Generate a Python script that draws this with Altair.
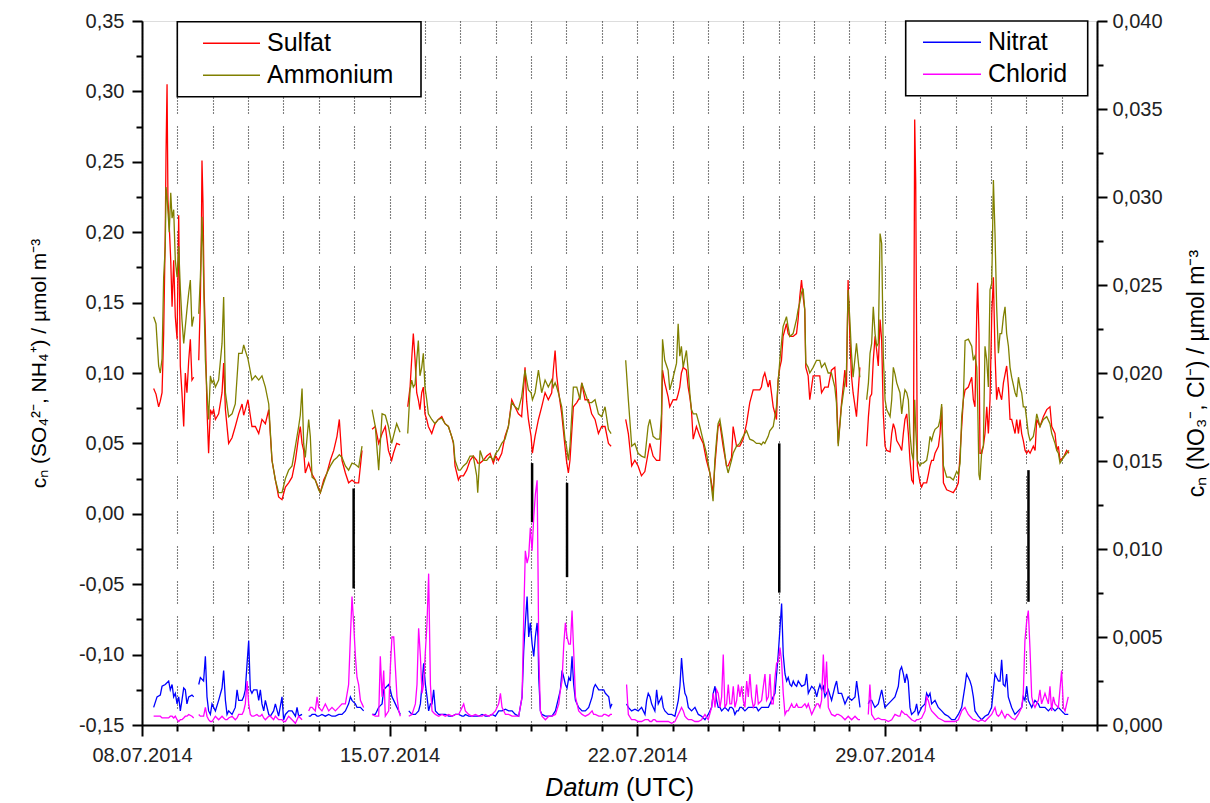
import altair as alt
import pandas as pd

T0 = pd.Timestamp("2014-07-08T00:00:00Z")

# ---- upper panel (left axis), hours since 08.07.2014 00:00 UTC, values in 1e-3 umol m-3
t_upper = [7.9, 9.5, 11.3, 12.4, 13.6, 14.7, 15.8, 16.3, 17.0, 17.6, 18.5, 19.5, 20.4, 21.5, 22.6, 23.8,
           24.9, 26.0, 27.1, 28.3, 29.4, 30.5, 31.7, 32.8, 33.9, 35.1, 36.5, 38.5, 39.6, 40.3, 40.7, 41.4,
           42.1, 43.0, 44.1, 45.2, 46.4, 47.5, 48.6, 49.8, 52.0, 54.3, 55.4, 56.6, 58.8, 61.1, 63.3, 65.6,
           67.9, 69.0, 70.1, 71.9, 74.6, 76.9, 79.2, 81.4, 83.7, 86.0, 88.2, 90.5, 92.7, 95.0, 97.3, 99.5,
           101.8, 104.1, 106.3, 107.4, 108.6, 109.7, 110.8, 113.1, 114.2, 115.4, 117.6, 119.9, 121.0, 123.3,
           125.5, 127.8, 130.1, 132.3, 133.9, 135.7, 138.0, 140.2, 142.5, 144.8, 147.0, 149.3, 152.5, 156.1,
           158.3, 160.6, 162.9, 165.1, 167.2, 169.4, 170.6, 172.8, 175.1, 177.5, 180.3, 181.9, 183.0, 184.1,
           185.3, 186.4, 187.5, 188.6, 189.8, 190.9, 192.0, 193.2, 194.3, 196.6, 198.8, 201.1, 203.4, 205.6,
           207.9, 210.1, 211.3, 212.4, 214.7, 216.0, 218.1, 220.3, 222.6, 224.8, 227.1, 227.8, 229.4, 231.6,
           233.9, 236.2, 238.4, 240.0, 241.8, 244.1, 246.3, 248.6, 250.9, 253.1, 255.4, 257.6, 259.9, 261.0,
           262.2, 264.0, 264.9, 266.7, 269.0, 271.2, 273.5, 275.7, 278.0, 279.1, 280.3, 281.4, 282.5, 284.8,
           287.0, 288.0, 289.3, 290.4, 292.7, 295.0, 297.2, 298.4, 300.6, 302.9, 305.1, 307.4, 309.7, 311.9,
           314.2, 316.5, 318.3, 323.0, 328.2, 330.0, 332.3, 334.4, 336.6, 338.9, 341.2, 343.4, 344.6, 346.8,
           349.1, 351.3, 352.5, 353.2, 354.7, 357.0, 358.1, 360.4, 362.7, 363.8, 364.9, 366.0, 367.2, 369.4,
           370.6, 371.7, 372.8, 374.0, 376.2, 378.5, 380.8, 383.0, 385.3, 387.5, 388.7, 389.8, 390.9, 392.1,
           394.3, 396.6, 397.7, 400.0, 401.1, 403.4, 405.6, 407.9, 410.2, 412.4, 414.7, 416.9, 419.2, 420.3,
           421.5, 422.6, 424.9, 426.0, 428.3, 430.5, 431.6, 432.8, 433.9, 435.0, 437.3, 438.4, 439.6, 441.8,
           444.1, 445.2, 446.3, 447.5, 448.6, 449.7, 450.4, 452.0, 453.1, 455.4, 457.7, 459.9, 461.1, 463.3,
           465.6, 467.8, 470.1, 471.2, 472.4, 474.6, 476.9, 478.0, 479.1, 480.3, 481.4, 482.5, 484.8, 487.1,
           489.5, 491.7, 492.9, 494.0, 495.1, 496.2, 497.4, 498.5, 499.6, 500.8, 501.9, 503.0, 504.2, 505.3,
           507.6, 508.7, 509.8, 511.0, 512.1, 514.3, 515.5, 516.6, 517.7, 518.9, 520.0, 521.1, 522.3, 523.4,
           524.3, 525.0, 526.1, 527.9, 529.0, 530.2, 532.4, 533.6, 534.7, 535.8, 537.0, 538.1, 540.4, 541.5,
           542.6, 543.8, 546.0, 548.3, 550.5, 552.8, 553.9, 555.1, 556.2, 557.3, 558.5, 560.7, 563.0, 564.1,
           565.2, 566.4, 567.0, 567.9, 568.6, 569.8, 570.9, 572.0, 573.2, 574.3, 575.4, 576.6, 577.7, 578.8,
           579.9, 581.1, 582.2, 583.3, 584.5, 585.6, 586.7, 587.9, 589.0, 590.1, 592.4, 593.5, 594.7, 595.8,
           596.9, 598.0, 599.2, 600.3, 601.4, 602.6, 604.8, 606.0, 607.1, 609.3, 611.6, 613.9, 616.1, 617.3,
           619.5, 620.7, 621.8, 622.9, 625.2, 627.4, 629.0]
sulfat = [89, 85, 76, 80, 86, 128, 200, 256, 305, 223, 204, 180, 147, 180, 140, 124,
          212, 105, 86, 62, 100, 86, 109, 124, 95, 97, None, 109, 152, 200, 251, 220,
          160, 128, 74, 43, 74, 71, 74, 67, 71, 86, 107, 74, 50, 54, 62, 71,
          78, 70, 74, 81, 62, 62, 57, 67, 64, 74, 38, 24, 12, 10, 19, 22,
          26, 38, 55, 62, 50, 45, 29, 36, 32, 28, 24, 18, 15, 24,
          29, 38, 45, 55, 67, 38, 29, 22, 24, 22, 22, 45, None, 60,
          62, 50, 57, 62, 45, 38, 43, 50, 49, None, 76, 90, 110, 128,
          109, 86, 81, 74, 86, 90, 71, 67, 62, 57, 64, 67, 69, 64,
          62, 55, 50, 34, 24, 27, 27, 31, 38, 41, 38, 36, 36, 38,
          41, 43, 36, 41, 38, 43, 55, 62, 81, 76, 71, 69, 104, 80,
          67, 55, 43, 55, 67, 76, 86, 81, 86, 102, 116, 98, 88, 71,
          48, 38, 29, 38, 76, 79, 83, 93, 81, 81, 71, 67, 57, 62,
          62, 50, 48, None, 67, 57, 34, 38, 34, 27, 30, 43, 50, 41,
          38, 38, 62, 102, 93, 83, 76, 81, 81, 85, 90, 100, 104, 102,
          90, 83, 74, 53, 62, 55, 50, 38, 29, 15, 34, 48, 62, 64,
          48, 34, 34, 40, 62, 48, 48, 53, 64, 79, 88, 88, 88, 90,
          97, 100, 90, 95, 76, 67, 95, 104, 109, 126, 135, 128, 126, 126,
          128, 138, 154, 166, 154, 145, 104, 98, 81, 98, 98, 98, 86, 90,
          90, 102, 104, 86, 50, 78, 102, 90, 166, 126, 98, 86, 69, 104,
          None, 48, 69, 83, 85, 109, 126, 116, 105, 138, 123, 71, 48, 45,
          44, 57, 64, 60, 52, 48, 45, 57, 67, 71, 57, 38, 24, 22,
          280, 235, 34, 22, 19, 22, 22, 28, 34, 38, 38, 43, 48, 57,
          76, 22, 17, 16, 15, 19, 22, 43, 62, 81, 88, 90, 97, 81,
          76, 142, 164, 128, 43, 43, 48, 57, 76, 57, 81, 142, 168, 114,
          81, 90, 85, 81, 93, 99, 105, 90, 67, 67, 57, 67, 57, 67,
          57, 52, 45, 43, 45, 43, 48, 45, 67, 62, 69, 74, 76, 62,
          57, 45, 48, 38, 40, 45, 43]
ammonium = [140, 135, 105, 100, 110, 168, 190, 232, 225, 215, 200, 228, 210, 216, 180, 168,
            190, 160, 138, 121, 133, 145, 157, 166, 133, 140, None, 142, 168, 190, 211, 190,
            150, 109, 86, 67, 98, 93, 95, 90, 95, 121, 154, 86, 69, 71, 78, 114,
            114, 120, 116, 110, 95, 98, 95, 98, 90, 78, 38, 24, 15, 15, 25, 31,
            34, 48, 62, 70, 89, 50, 40, 67, 55, 26, 24, 17, 15, 22,
            29, 34, 38, 40, 42, 40, 34, 31, 36, 35, 33, 48, None, 74,
            62, 31, 71, 70, 62, 50, 55, 64, 58, None, 57, 88, 95, 90,
            92, 109, 123, 98, 104, 114, 90, 81, 71, 67, 64, 67, 68, 64,
            62, 55, 51, 38, 31, 31, 34, 36, 41, 41, 27, 15, 45, 38,
            38, 41, 38, 43, 45, 50, 53, 62, 79, 76, 74, 83, 102, 95,
            88, 86, 81, 86, 102, 86, 95, 90, 95, 90, 93, 90, 86, 76,
            53, 48, 38, 48, 90, 90, 81, 93, 86, 79, 79, 81, 71, 69,
            76, 60, 57, None, 109, 81, 48, 50, 43, 41, 40, 62, 67, 55,
            53, 53, 71, 124, 109, 102, 88, 97, 107, 135, 112, 119, 104, 116,
            102, 86, 74, 71, 71, 62, 52, 43, 29, 9, 38, 52, 64, 67,
            52, 34, 29, 38, 43, 48, 50, 55, 59, 53, 52, 50, 50, 49,
            51, 50, 55, 59, 62, 76, 93, 109, 121, 133, 140, 133, 126, 128,
            138, 145, 150, 157, 160, 145, 107, 104, 100, 104, 109, 109, 104, 107,
            100, 100, 90, 79, 48, 76, 93, 102, 159, 138, 114, 97, 121, 97,
            None, 81, 93, 114, 121, 147, 128, 119, 121, 199, 192, 112, 81, 74,
            69, 81, 104, 99, 93, 86, 71, 81, 88, 86, 81, 57, 43, 38,
            81, 60, 38, 34, 36, 36, 38, 45, 55, 52, 57, 60, 62, 67,
            78, 34, 26, 26, 24, 30, 28, 36, 69, 81, 123, 124, 119, 109,
            112, 104, 81, 28, 24, 45, 48, 119, 109, 90, 159, 164, 237, 199,
            147, 114, 128, 128, 140, 147, 128, 119, 104, 97, 86, 83, 97, 90,
            86, 76, 76, 67, 57, 52, 55, 62, 71, 62, 67, 69, 64, 57,
            50, 45, 43, 36, 40, 43, 45]

# ---- lower panel (right axis), values in 1e-4 umol m-3
t_lower = [7.9, 10.2, 12.4, 13.6, 15.8, 18.1, 19.2, 20.4, 21.5, 22.6, 23.8, 24.9, 26.0, 27.1, 28.3, 29.4,
           30.5, 31.7, 33.9, 35.1, 36.5, 38.5, 39.6, 41.8, 43.0, 44.1, 45.2, 46.4, 47.5, 49.8, 52.0, 54.3,
           55.4, 56.6, 57.7, 58.8, 61.1, 63.3, 64.5, 65.6, 67.9, 69.0, 70.1, 71.3, 72.4, 73.5, 74.6, 75.8,
           78.0, 79.2, 80.3, 81.4, 82.6, 83.7, 86.0, 87.1, 89.3, 90.5, 92.7, 95.0, 96.1, 97.3, 99.5, 101.8,
           104.1, 105.2, 106.3, 108.6, 111.0, 113.1, 114.2, 115.4, 117.6, 118.8, 119.9, 122.1, 124.4, 126.7,
           128.9, 131.2, 133.5, 135.7, 138.0, 140.2, 141.4, 142.5, 143.6, 144.8, 145.9, 147.0, 148.2, 149.3,
           150.4, 153.0, 156.1, 158.3, 160.6, 161.7, 162.9, 164.0, 165.1, 167.4, 168.5, 169.6, 170.8, 171.9,
           173.0, 174.2, 175.3, 177.5, 181.0, 183.2, 185.5, 186.6, 187.7, 188.9, 190.0, 191.1, 192.3, 193.4,
           194.5, 195.7, 196.8, 197.9, 199.1, 201.3, 203.6, 205.8, 208.1, 210.4, 212.6, 214.9, 217.2, 218.3,
           219.4, 221.7, 223.9, 226.2, 228.5, 230.7, 233.0, 235.2, 237.5, 239.8, 242.0, 243.2, 244.3, 246.6,
           248.8, 251.1, 253.3, 255.6, 257.9, 259.0, 260.1, 261.3, 262.4, 263.5, 264.7, 265.8, 266.9, 268.1,
           268.7, 269.2, 270.3, 271.4, 273.7, 276.0, 278.2, 280.5, 282.8, 283.9, 285.0, 286.2, 287.3, 288.4,
           289.6, 290.7, 291.8, 292.9, 294.1, 296.3, 298.6, 300.8, 303.1, 305.4, 306.5, 307.6, 309.9, 312.2,
           313.3, 314.4, 316.7, 317.8, 318.9, 323.0, 328.8, 330.0, 332.2, 334.5, 336.7, 339.0, 341.3, 342.4,
           343.5, 344.7, 345.8, 346.9, 348.0, 349.2, 350.3, 352.6, 353.7, 354.8, 357.1, 359.4, 361.6, 363.9,
           365.0, 366.1, 367.3, 368.4, 369.5, 370.7, 372.9, 375.2, 377.5, 379.7, 382.0, 384.2, 386.5, 387.6,
           388.8, 389.9, 391.0, 392.2, 393.3, 394.4, 395.5, 396.7, 397.8, 398.9, 400.1, 401.2, 402.3, 403.5,
           404.6, 405.7, 406.9, 408.0, 409.1, 410.3, 411.4, 412.5, 413.6, 414.8, 415.9, 417.0, 418.2, 420.4,
           422.7, 423.8, 425.0, 426.1, 427.2, 428.3, 429.5, 430.6, 431.7, 432.9, 434.0, 435.1, 436.3, 437.4,
           438.5, 439.7, 440.8, 441.9, 443.0, 444.2, 445.3, 447.6, 449.8, 451.0, 452.1, 454.4, 456.6, 457.8,
           458.9, 460.0, 461.1, 462.3, 463.4, 464.5, 465.7, 467.9, 470.2, 471.3, 472.5, 474.7, 477.0, 479.2,
           481.5, 483.8, 484.9, 486.0, 487.2, 489.5, 492.8, 493.9, 495.1, 497.3, 499.6, 501.9, 504.1, 506.4,
           508.7, 510.9, 513.2, 514.3, 515.4, 516.6, 517.7, 518.8, 519.9, 521.1, 522.2, 524.5, 525.6, 526.7,
           529.0, 531.3, 532.4, 533.5, 534.7, 535.8, 538.1, 540.3, 542.6, 544.8, 547.1, 549.4, 551.6, 553.9,
           556.2, 558.4, 559.5, 560.7, 561.8, 562.9, 564.1, 565.2, 567.5, 569.7, 572.0, 574.2, 576.5, 578.8,
           579.9, 581.1, 582.2, 583.3, 584.4, 585.6, 586.7, 587.8, 590.1, 592.3, 594.6, 596.9, 598.0, 599.1,
           600.3, 601.4, 602.5, 603.7, 604.8, 605.9, 608.2, 609.3, 610.4, 612.7, 615.0, 616.1, 617.2, 618.4,
           619.5, 621.8, 624.0, 625.2, 626.3, 628.5]
nitrat = [10, 16, 17, 22, 23, 25, 20, 23, 16, 18, 12, 16, 8, 14, 21, 20,
          12, 16, 17, 16, None, 23, 27, 25, 39, 16, 8, 6, 12, 8, 14, 21,
          31, 14, 6, 8, 6, 10, 20, 14, 14, 16, 20, 35, 48, 20, 18, 20,
          20, 14, 20, 12, 8, 14, 6, 5, 8, 12, 5, 16, 3, 6, 8, 8,
          5, 10, 5, 6, None, 5, 5, 6, 6, 5, 5, 6, 5, 6,
          5, 5, 6, 6, 8, 12, 16, 14, 13, 12, 10, 10, 10, 9,
          8, None, 6, 6, 10, 11, 12, 20, 21, 23, 20, 16, 14, 12,
          10, 8, 6, None, 8, 6, 6, 7, 8, 12, 23, 35, 23, 16,
          8, 12, 12, 20, 8, 6, 6, 6, 5, 5, 6, 6, 5, 5,
          6, 5, 5, 5, 5, 6, 5, 5, 6, 5, 8, 8, 8, 9,
          8, 8, 6, 5, 16, 42, 58, 73, 50, 58, 46, 39, 50, 58,
          50, 27, 8, 6, 5, 5, 5, 8, 16, 20, 31, 27, 23, 21,
          27, 25, 39, 23, 14, 10, 8, 8, 10, 16, 21, 23, 20, 20,
          20, 18, 16, 10, 12, None, 12, 10, 8, 9, 8, 10, 6, 14,
          18, 16, 12, 10, 8, 20, 12, 16, 10, 8, 6, 6, 5, 14,
          22, 38, 25, 18, 16, 10, 8, 10, 6, 5, 3, 6, 10, 18,
          22, 14, 10, 10, 8, 9, 10, 9, 8, 10, 10, 9, 6, 8,
          8, 10, 10, 9, 8, 9, 10, 10, 10, 10, 10, 10, 8, 10,
          10, 10, 10, 12, 14, 16, 18, 29, 40, 55, 69, 40, 29, 25,
          27, 23, 22, 25, 23, 22, 25, 22, 23, 29, 18, 22, 20, 16,
          20, 23, 20, 22, 16, 18, 20, 14, 22, 25, 18, 18, 12, 16,
          14, 16, 25, 18, 10, None, 12, 14, 14, 10, 12, 20, 10, 12,
          14, 16, 22, 31, 33, 29, 24, 29, 25, 10, 6, 8, 12, 6,
          10, 12, 18, 16, 18, 12, 14, 10, 8, 6, 5, 3, 3, 6,
          10, 22, 29, 27, 25, 22, 16, 8, 5, 3, 5, 6, 10, 29,
          27, 25, 25, 37, 23, 22, 29, 16, 10, 6, 8, 10, 16, 14,
          22, 14, 12, 10, 12, 14, 12, 10, 10, 10, 8, 9, 10, 9,
          8, 10, 8, 7, 6, 6]
chlorid = [5, 5, 5, 4, 4, 4, 5, 5, 4, 5, 3, 2, 3, 3, 4, 5,
           5, 6, 5, 4, None, 6, 5, 5, 10, 5, 3, 2, 2, 5, 3, 5,
           4, 3, 3, 4, 5, 3, 4, 6, 6, 8, 12, 25, 12, 6, 5, 5,
           6, 5, 5, 6, 4, 3, 5, 5, 3, 5, 3, 3, 2, 2, 5, 3,
           1, 3, 5, 3, None, 8, 10, 10, 8, 16, 10, 8, 12, 8,
           10, 8, 10, 12, 12, 23, 50, 73, 58, 39, 27, 23, 14, 12,
           10, None, 6, 5, 5, 39, 16, 31, 5, 8, 33, 50, 50, 33,
           16, 8, 5, None, 5, 6, 12, 23, 55, 39, 18, 23, 42, 58,
           86, 23, 8, 7, 6, 5, 6, 5, 6, 5, 6, 6, 10, 12,
           8, 6, 5, 6, 5, 5, 6, 5, 6, 8, 12, 18, 10, 6,
           6, 5, 5, 5, 16, 61, 99, 92, 96, 112, 99, 118, 131, 139,
           90, 42, 8, 5, 3, 5, 5, 6, 12, 20, 25, 46, 58, 50,
           46, 46, 65, 42, 16, 8, 6, 5, 6, 8, 6, 6, 5, 5,
           6, 6, 5, 6, 6, None, 23, 6, 3, 3, 2, 2, 3, 3,
           3, 2, 2, 3, 3, 2, 2, 2, 2, 2, 2, 1, 2, 6,
           8, 10, 8, 5, 4, 3, 3, 2, 2, 3, 6, 3, 10, 18,
           10, 20, 18, 10, 16, 40, 10, 12, 23, 12, 12, 22, 10, 14,
           23, 16, 22, 14, 10, 25, 16, 29, 16, 10, 12, 23, 12, 14,
           29, 14, 16, 29, 12, 12, 27, 35, 36, 44, 36, 18, 6, 8,
           8, 10, 12, 10, 10, 12, 10, 10, 12, 10, 12, 6, 10, 12,
           12, 10, 14, 40, 18, 36, 10, 6, 5, 6, 6, 5, 3, 5,
           3, 5, 4, 3, 3, None, 6, 23, 6, 3, 4, 3, 3, 2,
           3, 6, 5, 5, 8, 7, 6, 6, 5, 4, 3, 2, 3, 3,
           4, 8, 16, 14, 10, 8, 6, 4, 3, 2, 2, 2, 2, 3,
           8, 10, 8, 6, 5, 4, 3, 3, 2, 3, 2, 4, 6, 10,
           6, 5, 6, 8, 6, 4, 6, 6, 4, 3, 6, 10, 18, 48,
           59, 65, 44, 16, 12, 10, 14, 20, 12, 18, 12, 22, 8, 16,
           12, 10, 31, 10, 8, 16]

# ---- marked events (black bars), left-axis units
event_hours = [143.6, 264.7, 288.4, 432.4, 601.5]
event_top = [0.018, 0.036, 0.022, 0.050, 0.031]
event_bottom = [-0.053, -0.006, -0.045, -0.056, -0.0625]

legend_left = ["Sulfat", "Ammonium"]
legend_right = ["Nitrat", "Chlorid"]
colors_left = ["#ff0000", "#808000"]
colors_right = ["#0000ff", "#ff00ff"]

FONT = "Liberation Sans"


def iso(h):
    return (T0 + pd.Timedelta(hours=h)).strftime("%Y-%m-%dT%H:%M:%SZ")


def series_frame(hours, values, scale, name):
    rows, seg = [], 0
    for h, v in zip(hours, values):
        if v is None:
            seg += 1
            continue
        rows.append({"t": iso(h), "v": v * scale, "series": name, "seg": seg})
    return pd.DataFrame(rows)


df_s = series_frame(t_upper, sulfat, 1e-3, "Sulfat")
df_a = series_frame(t_upper, ammonium, 1e-3, "Ammonium")
df_n = series_frame(t_lower, nitrat, 1e-4, "Nitrat")
df_c = series_frame(t_lower, chlorid, 1e-4, "Chlorid")
df_ev = pd.DataFrame({"t": [iso(h) for h in event_hours], "top": event_top, "bottom": event_bottom})

DAY = 86400000
t0_ms = int(T0.timestamp() * 1000)
x_vals = [t0_ms + i * DAY for i in range(28)]
week_test = f"(datum.value - {t0_ms}) % {7 * DAY} == 0"
gdash = [1, 2] * 7 + [1, 13]

x_scale = alt.Scale(type="utc", domain=[alt.DateTime(year=2014, month=7, date=8, utc=True),
                                        alt.DateTime(year=2014, month=8, date=4, utc=True)], nice=False)
x_axis = alt.Axis(
    title=None, values=x_vals, format="%d.%m.%Y", formatType="utc",
    labelExpr=f"{week_test} ? utcFormat(datum.value, '%d.%m.%Y') : ''",
    tickSize={"condition": {"test": week_test, "value": 11}, "value": 6},
    labelPadding=9, labelFontSize=20, labelFont=FONT, labelColor="#222",
    labelOverlap=False, labelFlush=False,
    grid=True, gridDash=gdash, gridColor="black", gridWidth=1.1, gridOpacity=1,
    domainColor="black", domainWidth=2, tickColor="black", tickWidth=2,
)
X = alt.X("t:T", scale=x_scale, axis=x_axis)

yl_vals = [(i * 25 - 150) / 1000 for i in range(21)]
major_l = "abs(datum.value*20 - round(datum.value*20)) < 0.001"
yl_scale = alt.Scale(domain=[-0.15, 0.35], nice=False, zero=False)
yl_axis = alt.Axis(
    values=yl_vals, orient="left",
    labelExpr=f"{major_l} ? replace(replace(format(datum.value, '.2f'), '.', ','), '\u2212', '-') : ''",
    tickSize={"condition": {"test": major_l, "value": 10}, "value": 6},
    labelPadding=8, labelFontSize=20, labelFont=FONT, labelColor="#222", labelOverlap=False,
    grid=False, domainColor="black", domainWidth=2, tickColor="black", tickWidth=2,
    title="c\u2099 (SO\u2084\u00b2\u207b, NH\u2084\u207a) / \u00b5mol m\u207b\u00b3",
    titleFont=FONT, titleFontSize=21, titleFontWeight="normal", titleColor="black",
    titleAngle=270, titleX=-97, titleY=342, titleAlign="center", titleBaseline="alphabetic",
)

yr_vals = [(i * 25) / 10000 for i in range(17)]
major_r = "abs(datum.value*200 - round(datum.value*200)) < 0.001"
yr_scale = alt.Scale(domain=[0, 0.04], nice=False, zero=False)
yr_axis = alt.Axis(
    values=yr_vals, orient="right",
    labelExpr=f"{major_r} ? replace(format(datum.value, '.3f'), '.', ',') : ''",
    tickSize={"condition": {"test": major_r, "value": 10}, "value": 6},
    labelPadding=5, labelFontSize=20, labelFont=FONT, labelColor="#222", labelOverlap=False,
    grid=False, domainColor="black", domainWidth=2, tickColor="black", tickWidth=2,
    title="c\u2099 (NO\u2083\u207b, Cl\u207b) / \u00b5mol m\u207b\u00b3",
    titleFont=FONT, titleFontSize=23, titleFontWeight="normal", titleColor="black",
    titleAngle=270, titleX=106, titleY=352, titleAlign="center", titleBaseline="alphabetic",
)


def legend(x, y, size):
    return alt.Legend(
        title=None, orient="none", legendX=x, legendY=y, direction="vertical",
        symbolType="stroke", symbolSize=size, symbolStrokeWidth=1.5,
        labelFont=FONT, labelFontSize=25, labelColor="black", labelOffset=6,
        clipHeight=32, rowPadding=0, padding=0,
    )


col_l = alt.Color("series:N", scale=alt.Scale(domain=legend_left, range=colors_left), legend=legend(60, 6.3, 3249))
col_r = alt.Color("series:N", scale=alt.Scale(domain=legend_right, range=colors_right), legend=legend(780, 5.3, 3364))


def line(df, yscale, yaxis, color):
    return alt.Chart(df).mark_line(strokeWidth=1.3, clip=True).encode(
        x=X, y=alt.Y("v:Q", scale=yscale, axis=yaxis), color=color, detail="seg:N")


events = alt.Chart(df_ev).mark_rule(color="black", strokeWidth=2.5).encode(
    x=X, y=alt.Y("top:Q", scale=yl_scale, axis=yl_axis), y2="bottom:Q")

left = alt.layer(line(df_s, yl_scale, yl_axis, col_l), line(df_a, yl_scale, yl_axis, col_l), events)
right = alt.layer(line(df_n, yr_scale, yr_axis, col_r), line(df_c, yr_scale, yr_axis, col_r))

one = pd.DataFrame({"k": [0]})
frame_l = alt.Chart(one).mark_rect(fill="white", stroke="black", strokeWidth=1.6).encode(
    x=alt.value(35.3), x2=alt.value(279), y=alt.value(0.7), y2=alt.value(75.7))
frame_r = alt.Chart(one).mark_rect(fill="white", stroke="black", strokeWidth=1.6).encode(
    x=alt.value(763.7), x2=alt.value(945.7), y=alt.value(0), y2=alt.value(74.7))
xt1 = alt.Chart(one).mark_text(text="Datum", font=FONT, fontSize=25, fontStyle="italic", align="right",
                               baseline="alphabetic", color="black").encode(x=alt.value(477), y=alt.value(775))
xt2 = alt.Chart(one).mark_text(text="(UTC)", font=FONT, fontSize=25, align="left",
                               baseline="alphabetic", color="black").encode(x=alt.value(484), y=alt.value(775))

chart = alt.layer(left, right, frame_l, frame_r, xt1, xt2).resolve_scale(
    y="independent", color="independent"
).properties(
    width=955, height=704, autosize=alt.AutoSizeParams(type="none"),
    padding={"left": 142, "top": 21, "right": 113, "bottom": 78},
).configure_view(strokeWidth=0).configure(font=FONT)

chart.save("out.html", embed_options={"renderer": "svg", "actions": False})
